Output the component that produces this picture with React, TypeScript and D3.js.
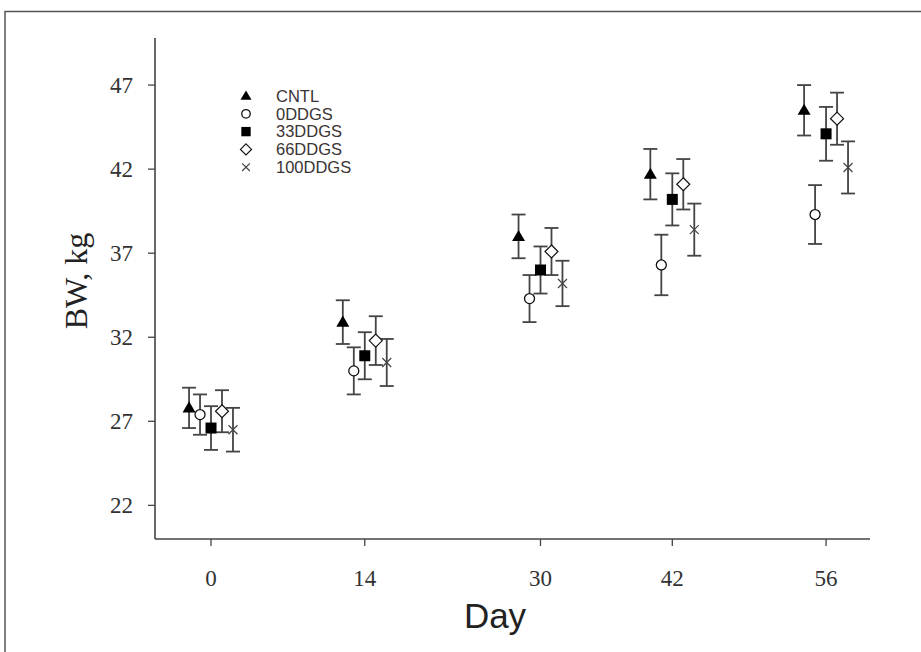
import React from "react";
import * as d3 from "d3";

const days = [0, 14, 30, 42, 56];
const yTicks = [22, 27, 32, 37, 42, 47];

const seriesNames = ["CNTL", "0DDGS", "33DDGS", "66DDGS", "100DDGS"];
const dayOffsets = [-2, -1, 0, 1, 2];

const cntlMean = [27.8, 32.9, 38.0, 41.7, 45.5];
const cntlSE = [1.2, 1.3, 1.3, 1.5, 1.5];
const dg0Mean = [27.4, 30.0, 34.3, 36.3, 39.3];
const dg0SE = [1.2, 1.4, 1.4, 1.8, 1.75];
const dg33Mean = [26.6, 30.9, 36.0, 40.2, 44.1];
const dg33SE = [1.3, 1.4, 1.4, 1.55, 1.6];
const dg66Mean = [27.6, 31.8, 37.1, 41.1, 45.0];
const dg66SE = [1.25, 1.45, 1.4, 1.5, 1.55];
const dg100Mean = [26.5, 30.5, 35.2, 38.4, 42.1];
const dg100SE = [1.3, 1.4, 1.35, 1.55, 1.55];

const means = [cntlMean, dg0Mean, dg33Mean, dg66Mean, dg100Mean];
const ses = [cntlSE, dg0SE, dg33SE, dg66SE, dg100SE];

const W = 921;
const H = 652;
const left = 155;
const right = 870;
const top = 38;
const bottom = 539;

const x = d3.scaleLinear().domain([-5.1, 60]).range([left, right]);
const y = d3.scaleLinear().domain([20.0, 49.8]).range([bottom, top]);

function Marker({ kind, cx, cy, s = 1 }: { kind: number; cx: number; cy: number; s?: number }) {
  const stroke = "#111";
  if (kind === 0) {
    const r = 6.5 * s;
    return (
      <path
        d={`M${cx},${cy - r}L${cx + r},${cy + r * 0.7}L${cx - r},${cy + r * 0.7}Z`}
        fill="#000"
      />
    );
  }
  if (kind === 1) {
    return <circle cx={cx} cy={cy} r={5 * s} fill="#fff" stroke={stroke} strokeWidth={1.3} />;
  }
  if (kind === 2) {
    const h = 5.5 * s;
    return <rect x={cx - h} y={cy - h} width={2 * h} height={2 * h} fill="#000" />;
  }
  if (kind === 3) {
    const r = 6.5 * s;
    return (
      <path
        d={`M${cx},${cy - r}L${cx + r},${cy}L${cx},${cy + r}L${cx - r},${cy}Z`}
        fill="#fff"
        stroke={stroke}
        strokeWidth={1.2}
      />
    );
  }
  const r = 4.5 * s;
  return (
    <path
      d={`M${cx - r},${cy - r}L${cx + r},${cy + r}M${cx + r},${cy - r}L${cx - r},${cy + r}`}
      stroke="#444"
      strokeWidth={1.2}
    />
  );
}

export default function App() {
  const axisColor = "#444";
  return (
    <div style={{ position: "fixed", left: 0, top: 0 }}>
      <svg width={W} height={H} style={{ display: "block", background: "#fff" }}>
        {/* outer frame */}
        <path d={`M5,${H}L5,11.5L${W},11.5`} fill="none" stroke="#555" strokeWidth={1.5} />

        {/* axes */}
        <line x1={left} x2={left} y1={top} y2={bottom} stroke={axisColor} strokeWidth={1.6} />
        <line x1={left} x2={right} y1={bottom} y2={bottom} stroke={axisColor} strokeWidth={1.6} />

        {yTicks.map((t) => (
          <g key={t}>
            <line x1={left - 7} x2={left} y1={y(t)} y2={y(t)} stroke={axisColor} strokeWidth={1.3} />
            <text
              x={133}
              y={y(t)}
              dy="0.35em"
              textAnchor="end"
              fontFamily="'Liberation Serif', serif"
              fontSize={23}
              fill="#333"
            >
              {t}
            </text>
          </g>
        ))}

        {days.map((d) => (
          <g key={d}>
            <line x1={x(d)} x2={x(d)} y1={bottom} y2={bottom + 7} stroke={axisColor} strokeWidth={1.3} />
            <text
              x={x(d)}
              y={586}
              textAnchor="middle"
              fontFamily="'Liberation Serif', serif"
              fontSize={23}
              fill="#333"
            >
              {d}
            </text>
          </g>
        ))}

        <text
          x={495}
          y={628}
          textAnchor="middle"
          fontFamily="'Liberation Sans', Arial, sans-serif"
          fontSize={35}
          fill="#222"
        >
          Day
        </text>
        <text
          transform={`translate(76,281) rotate(-90)`}
          textAnchor="middle"
          dominantBaseline="central"
          fontFamily="'Liberation Serif', serif"
          fontSize={32}
          fill="#222"
        >
          BW, kg
        </text>

        {/* error bars */}
        {means.map((m, si) =>
          m.map((v, i) => {
            const cx = x(days[i] + dayOffsets[si]);
            const lo = y(v - ses[si][i]);
            const hi = y(v + ses[si][i]);
            return (
              <g key={`e${si}-${i}`} stroke="#444" strokeWidth={1.8}>
                <line x1={cx} x2={cx} y1={hi} y2={lo} />
                <line x1={cx - 7} x2={cx + 7} y1={hi} y2={hi} />
                <line x1={cx - 7} x2={cx + 7} y1={lo} y2={lo} />
              </g>
            );
          })
        )}

        {/* markers */}
        {means.map((m, si) =>
          m.map((v, i) => (
            <Marker key={`m${si}-${i}`} kind={si} cx={x(days[i] + dayOffsets[si])} cy={y(v)} />
          ))
        )}

        {/* legend */}
        {seriesNames.map((name, i) => (
          <g key={name}>
            <Marker kind={i} cx={246} cy={96 + i * 17.8} s={0.85} />
            <text
              x={276}
              y={96 + i * 17.8}
              dy="0.35em"
              fontFamily="'Liberation Sans', Arial, sans-serif"
              fontSize={16.5}
              fill="#3a3333"
            >
              {name}
            </text>
          </g>
        ))}
      </svg>
    </div>
  );
}
